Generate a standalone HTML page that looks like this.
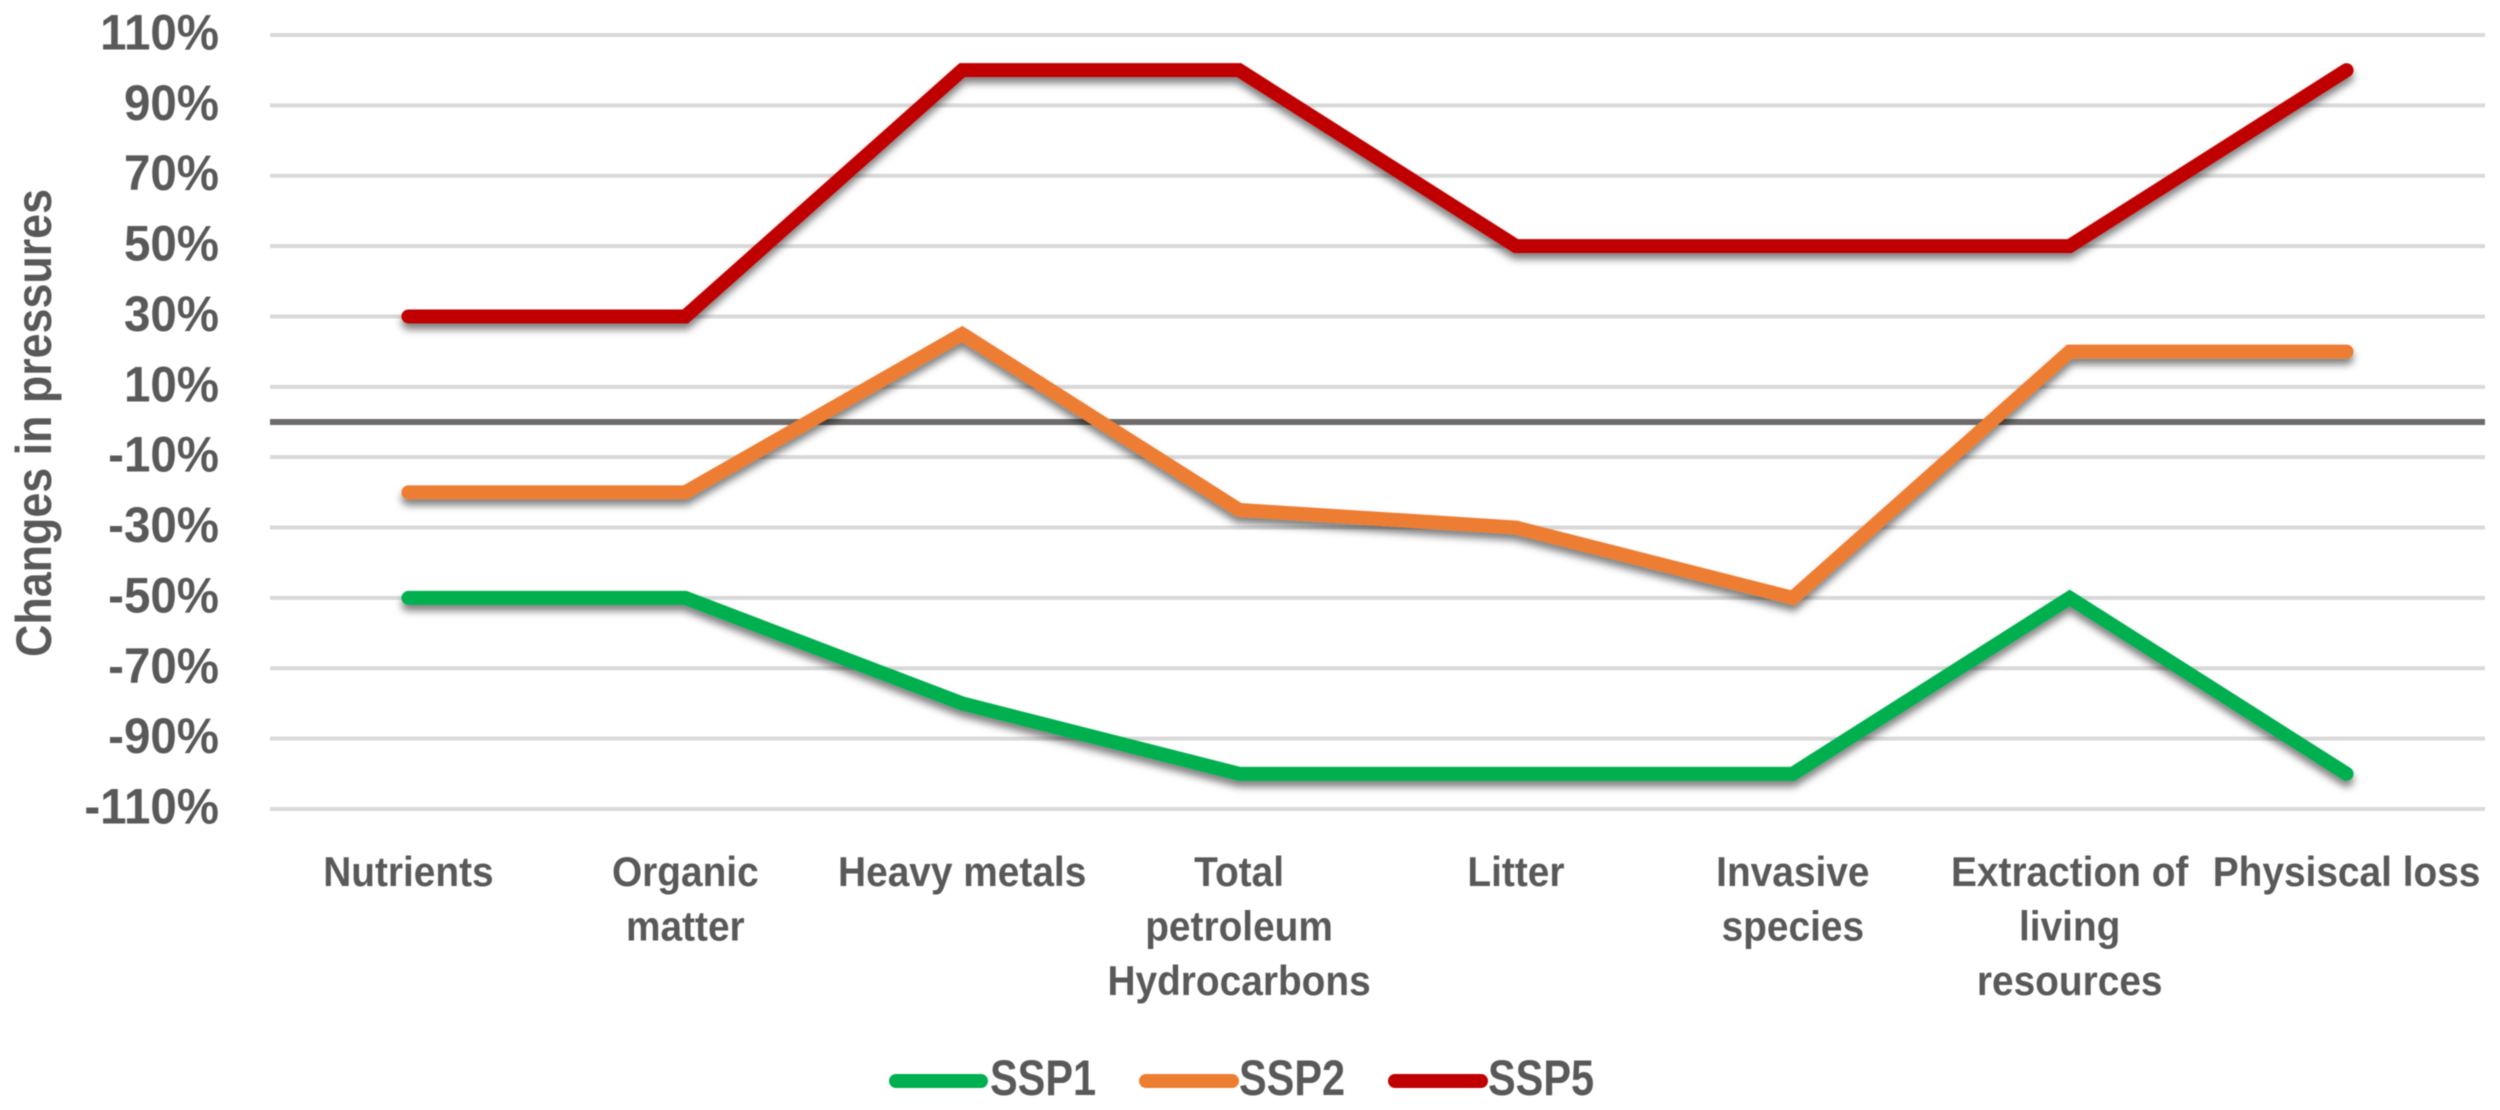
<!DOCTYPE html>
<html lang="en">
<head>
<meta charset="utf-8">
<title>Changes in pressures by SSP scenario</title>
<style>
html,body{margin:0;padding:0;background:#fff;width:2500px;height:1110px;overflow:hidden}
svg{display:block;filter:blur(0.6px)}
text{font-family:"Liberation Sans",sans-serif;font-weight:700;fill:#595959}
</style>
</head>
<body>
<svg id="chart" xmlns="http://www.w3.org/2000/svg" width="2500" height="1110" viewBox="0 0 2500 1110">
  <defs>
    <filter id="line-shadow" x="-5%" y="-20%" width="110%" height="150%">
      <feDropShadow dx="0" dy="6" stdDeviation="4" flood-color="#000" flood-opacity="0.5"/>
    </filter>
  </defs>
  <g id="grid"></g>
  <g id="yticks"></g>
  <g id="xticks"></g>
  <g id="series"></g>
  <g id="legend"></g>
  <text transform="translate(51,657) rotate(-90)" font-size="50" textLength="468" lengthAdjust="spacingAndGlyphs">Changes in pressures</text>
</svg>
<script>
const categories = [
  ["Nutrients"],
  ["Organic", "matter"],
  ["Heavy metals"],
  ["Total", "petroleum", "Hydrocarbons"],
  ["Litter"],
  ["Invasive", "species"],
  ["Extraction of", "living", "resources"],
  ["Physiscal loss"]
];
const yTicks = [110, 90, 70, 50, 30, 10, -10, -30, -50, -70, -90, -110];
const ssp1 = [-50, -50, -80, -100, -100, -100, -50, -100];
const ssp2 = [-20, -20, 25, -25, -30, -50, 20, 20];
const ssp5 = [30, 30, 100, 100, 50, 50, 50, 100];

const NS = "http://www.w3.org/2000/svg";
const plotLeft = 270, plotRight = 2485, plotTop = 35, plotBottom = 809;
const yMax = 110, yMin = -110;

function xScale(i) {
  const step = (plotRight - plotLeft) / categories.length;
  return plotLeft + step * (i + 0.5);
}
function yScale(v) {
  return plotTop + (yMax - v) / (yMax - yMin) * (plotBottom - plotTop);
}
function make(tag, parentId) {
  const el = document.createElementNS(NS, tag);
  document.getElementById(parentId).appendChild(el);
  return el;
}

yTicks.forEach(function (t) {
  const line = make("line", "grid");
  
  
  line.setAttribute("x1", plotLeft);
  line.setAttribute("x2", plotRight);
  line.setAttribute("y1", yScale(t));
  line.setAttribute("y2", yScale(t));
  line.setAttribute("stroke", "#d9d9d9");
  line.setAttribute("stroke-width", "4");

  const label = make("text", "yticks");
  
  
  label.setAttribute("transform", "translate(219," + (yScale(t) + 14.5) + ") scale(0.95,1)");
  label.setAttribute("text-anchor", "end");
  label.setAttribute("font-size", "50");
  label.textContent = t + "%";
});

const zeroLine = make("line", "grid");


zeroLine.setAttribute("x1", plotLeft);
zeroLine.setAttribute("x2", plotRight);
zeroLine.setAttribute("y1", yScale(0));
zeroLine.setAttribute("y2", yScale(0));
zeroLine.setAttribute("stroke", "#6f6b6b");
zeroLine.setAttribute("stroke-width", "6");

categories.forEach(function (lines, i) {
  lines.forEach(function (txt, j) {
    const label = make("text", "xticks");
    
    
    label.setAttribute("transform", "translate(" + xScale(i) + "," + (886 + j * 54.5) + ") scale(0.925,1)");
    label.setAttribute("text-anchor", "middle");
    label.setAttribute("font-size", "42");
    label.textContent = txt;
  });
});

function drawSeries(values, color) {
  const path = make("polyline", "series");
  
  
  path.setAttribute("points", values.map(function (v, i) {
    return xScale(i) + "," + yScale(v);
  }).join(" "));
  path.setAttribute("fill", "none");
  path.setAttribute("stroke", color);
  path.setAttribute("stroke-width", "14");
  path.setAttribute("stroke-linecap", "round");
  path.setAttribute("stroke-linejoin", "miter");
  path.setAttribute("filter", "url(#line-shadow)");
}
drawSeries(ssp1, "#00B050");
drawSeries(ssp2, "#ED7D31");
drawSeries(ssp5, "#C00000");

function drawLegend(name, color, lineStart, lineEnd, textX) {
  const key = make("line", "legend");
  
  
  key.setAttribute("x1", lineStart);
  key.setAttribute("x2", lineEnd);
  key.setAttribute("y1", 1081);
  key.setAttribute("y2", 1081);
  key.setAttribute("stroke", color);
  key.setAttribute("stroke-width", "14");
  key.setAttribute("stroke-linecap", "round");

  const label = make("text", "legend");
  
  
  label.setAttribute("transform", "translate(" + textX + ",1095) scale(0.83,1)");
  label.setAttribute("font-size", "50");
  label.textContent = name;
}
drawLegend("SSP1", "#00B050", 896, 981, 990);
drawLegend("SSP2", "#ED7D31", 1146, 1232, 1239);
drawLegend("SSP5", "#C00000", 1395, 1481, 1488);
</script>
</body>
</html>
